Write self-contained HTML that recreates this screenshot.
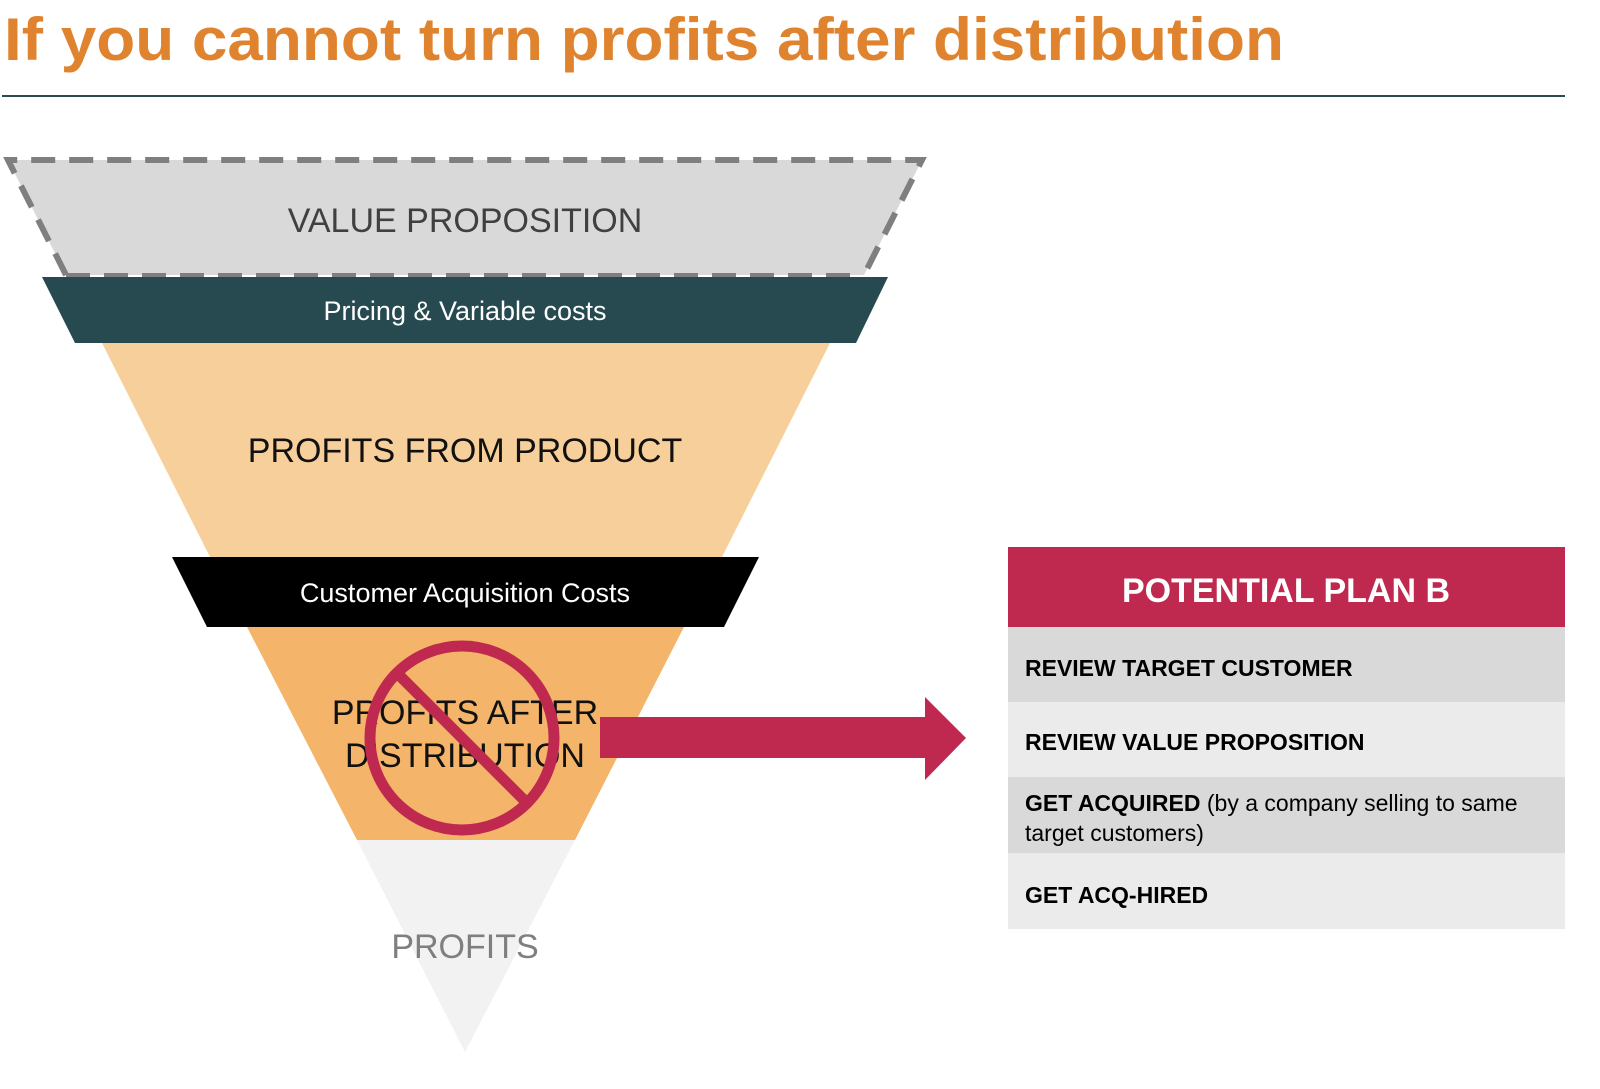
<!DOCTYPE html>
<html><head><meta charset="utf-8"><style>body{margin:0;background:#fff}svg{display:block}</style></head><body>
<svg width="1600" height="1089" viewBox="0 0 1600 1089" xmlns="http://www.w3.org/2000/svg" font-family="Liberation Sans, sans-serif">
<text x="4" y="60" font-size="60" font-weight="bold" fill="#e0832f" textLength="1280" lengthAdjust="spacingAndGlyphs">If you cannot turn profits after distribution</text>
<line x1="2" y1="96" x2="1565" y2="96" stroke="#2a4a50" stroke-width="2"/>
<!-- value prop -->
<polygon points="8,160 922,160 864,275 66,275" fill="#d9d9d9"/>
<polyline points="66,275 8,160 922,160 864,275" fill="none" stroke="#7f7f7f" stroke-width="6" stroke-dasharray="24,14"/>
<line x1="66" y1="275" x2="864" y2="275" stroke="#7f7f7f" stroke-width="4" stroke-dasharray="24,14"/>
<text x="465" y="232" font-size="34" fill="#404040" text-anchor="middle">VALUE PROPOSITION</text>
<polygon points="42,277 888,277 856,343 75,343" fill="#264a50"/>
<text x="465" y="320" font-size="27" fill="#fff" text-anchor="middle">Pricing &amp; Variable costs</text>
<polygon points="102,343 830,343 722,557 210,557" fill="#f7cf9a"/>
<text x="465" y="462" font-size="34" fill="#111" text-anchor="middle">PROFITS FROM PRODUCT</text>
<polygon points="172,557 759,557 724,627 207,627" fill="#000"/>
<text x="465" y="602" font-size="27" fill="#fff" text-anchor="middle">Customer Acquisition Costs</text>
<polygon points="247,627 684,627 575,840 357,840" fill="#f4b46a"/>
<text x="465" y="724" font-size="34" fill="#111" text-anchor="middle">PROFITS AFTER</text>
<text x="465" y="767" font-size="34" fill="#111" text-anchor="middle">DISTRIBUTION</text>
<polygon points="357,840 575,840 465,1052" fill="#f2f2f2"/>
<text x="465" y="958" font-size="34" fill="#7f7f7f" text-anchor="middle">PROFITS</text>
<circle cx="462" cy="738" r="92" fill="none" stroke="#c0294f" stroke-width="11"/>
<line x1="397" y1="673" x2="527" y2="803" stroke="#c0294f" stroke-width="11"/>
<polygon points="600,717 925,717 925,697 966,738 925,780 925,758 600,758" fill="#c0294f"/>
<!-- panel -->
<rect x="1008" y="547" width="557" height="80" fill="#c0294f"/>
<text x="1286" y="602" font-size="34" font-weight="bold" fill="#fff" text-anchor="middle">POTENTIAL PLAN B</text>
<rect x="1008" y="627" width="557" height="75" fill="#d9d9d9"/>
<rect x="1008" y="702" width="557" height="75" fill="#ebebeb"/>
<rect x="1008" y="777" width="557" height="76" fill="#d9d9d9"/>
<rect x="1008" y="853" width="557" height="76" fill="#ebebeb"/>
<g font-size="23" fill="#000">
<text x="1025" y="676" font-weight="bold">REVIEW TARGET CUSTOMER</text>
<text x="1025" y="750" font-weight="bold">REVIEW VALUE PROPOSITION</text>
<text x="1025" y="811"><tspan font-weight="bold">GET ACQUIRED</tspan> (by a company selling to same</text>
<text x="1025" y="841">target customers)</text>
<text x="1025" y="903" font-weight="bold">GET ACQ-HIRED</text>
</g>
</svg>
</body></html>
